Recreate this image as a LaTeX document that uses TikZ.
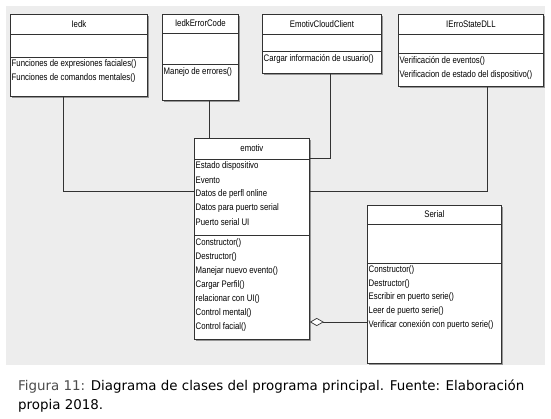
\documentclass[tikz,border=0pt]{standalone}
\usepackage{fontspec}
\usetikzlibrary{arrows.meta,shadows,calc}
\newfontfamily\umlfont[FakeStretch=0.82]{Liberation Sans}
\newfontfamily\capfont{DejaVu Sans}
\definecolor{bgcol}{RGB}{237,237,237}
\definecolor{linecol}{RGB}{50,50,50}
\definecolor{shadowcol}{RGB}{150,150,150}
\tikzset{
  classbox/.style={draw=linecol, fill=white, line width=0.8pt, anchor=north west, inner sep=0pt,
    general shadow={fill=shadowcol, shadow xshift=1.2pt, shadow yshift=-1.2pt}},
  ctitle/.style={font=\umlfont\fontsize{9.5}{11}\selectfont, inner sep=0pt},
  citem/.style={font=\umlfont\fontsize{9.5}{11}\selectfont, anchor=west, inner sep=0pt},
  divider/.style={draw=linecol, line width=0.8pt},
  conn/.style={draw=linecol, line width=0.7pt},
  captext/.style={font=\capfont\fontsize{13.4}{16}\selectfont, anchor=west, inner sep=0pt},
}
\begin{document}
\begin{tikzpicture}[x=1pt,y=-1pt]
\useasboundingbox (0,0) rectangle (551,419);
\fill[white] (0,0) rectangle (551,419);
\fill[bgcol] (6,6) rectangle (545,365);

% classes
\node[classbox, minimum width=137, minimum height=82] (iedk) at (10,14) {};
\node[classbox, minimum width=76, minimum height=86] (err) at (162,14) {};
\node[classbox, minimum width=119, minimum height=59] (cloud) at (262,14) {};
\node[classbox, minimum width=145, minimum height=72] (dll) at (398,14) {};
\node[classbox, minimum width=115, minimum height=201] (emotiv) at (194,138) {};
\node[classbox, minimum width=134, minimum height=158] (serial) at (367,205) {};

% dividers
\foreach \n/\a/\b in {iedk/34/57, err/33/64, cloud/34/51, dll/34/53, emotiv/159/235, serial/224/263}{
  \draw[divider] (\n.west |- 0,\a) -- (\n.east |- 0,\a);
  \draw[divider] (\n.west |- 0,\b) -- (\n.east |- 0,\b);
}

% titles
\node[ctitle] (t1) at (iedk.north |- 0,24) {Iedk};
\node[ctitle] (t2) at (err.north |- 0,23.5) {IedkErrorCode};
\node[ctitle] (t3) at (cloud.north |- 0,24) {EmotivCloudClient};
\node[ctitle] (t4) at (dll.north |- 0,24) {IErroStateDLL};
\node[ctitle] (t5) at (emotiv.north |- 0,148.5) {emotiv};
\node[ctitle] (t6) at (serial.north |- 0,214) {Serial};

% members
\coordinate (ix) at (11.5,0);
\node[citem] (i1) at (ix |- 0,64) {Funciones de expresiones faciales()};
\node[citem] (i2) at (ix |- 0,78) {Funciones de comandos mentales()};
\coordinate (ex) at (163.5,0);
\node[citem] (e1) at (ex |- 0,72) {Manejo de errores()};
\coordinate (cx) at (263.5,0);
\node[citem] (c1) at (cx |- 0,59) {Cargar información de usuario()};
\coordinate (dx) at (399.5,0);
\node[citem] (d1) at (dx |- 0,61) {Verificación de eventos()};
\node[citem] (d2) at (dx |- 0,75) {Verificacion de estado del dispositivo()};
\coordinate (mx) at (195.5,0);
\node[citem] (a1) at (mx |- 0,166.5) {Estado dispositivo};
\node[citem] (a2) at (mx |- 0,180.5) {Evento};
\node[citem] (a3) at (mx |- 0,194.5) {Datos de perfl online};
\node[citem] (a4) at (mx |- 0,208.5) {Datos para puerto serial};
\node[citem] (a5) at (mx |- 0,222.5) {Puerto serial UI};
\node[citem] (m1) at (mx |- 0,243) {Constructor()};
\node[citem] (m2) at (mx |- 0,257) {Destructor()};
\node[citem] (m3) at (mx |- 0,271) {Manejar nuevo evento()};
\node[citem] (m4) at (mx |- 0,285) {Cargar Perfil()};
\node[citem] (m5) at (mx |- 0,299) {relacionar con UI()};
\node[citem] (m6) at (mx |- 0,313) {Control mental()};
\node[citem] (m7) at (mx |- 0,327) {Control facial()};
\coordinate (sx) at (368.5,0);
\node[citem] (s1) at (sx |- 0,270) {Constructor()};
\node[citem] (s2) at (sx |- 0,284) {Destructor()};
\node[citem] (s3) at (sx |- 0,297.5) {Escribir en puerto serie()};
\node[citem] (s4) at (sx |- 0,311) {Leer de puerto serie()};
\node[citem] (s5) at (sx |- 0,324.5) {Verificar conexión con puerto serie()};

% connectors
\coordinate (k1) at (63,191);
\coordinate (k2) at (209,0);
\coordinate (k3) at (330,158);
\coordinate (k4) at (487,191);
\coordinate (k5) at (0,322);
\draw[conn] (iedk.south -| k1) |- (emotiv.west |- k1);
\draw[conn] (err.south -| k2) -- (emotiv.north -| k2);
\draw[conn] (cloud.south -| k3) |- (emotiv.east |- k3);
\draw[conn] (dll.south -| k4) |- (emotiv.east |- k4);
\draw[conn, {Diamond[length=14pt,width=8pt,fill=white]}-] (emotiv.east |- k5) -- (serial.west |- k5);

% caption
\node[captext] (cap1) at (18,387) {\textcolor{black!70}{Figura 11:} Diagrama de clases del programa principal. Fuente: Elaboración};
\node[captext] (cap2) at (18,406) {propia 2018.};
\end{tikzpicture}
\end{document}
